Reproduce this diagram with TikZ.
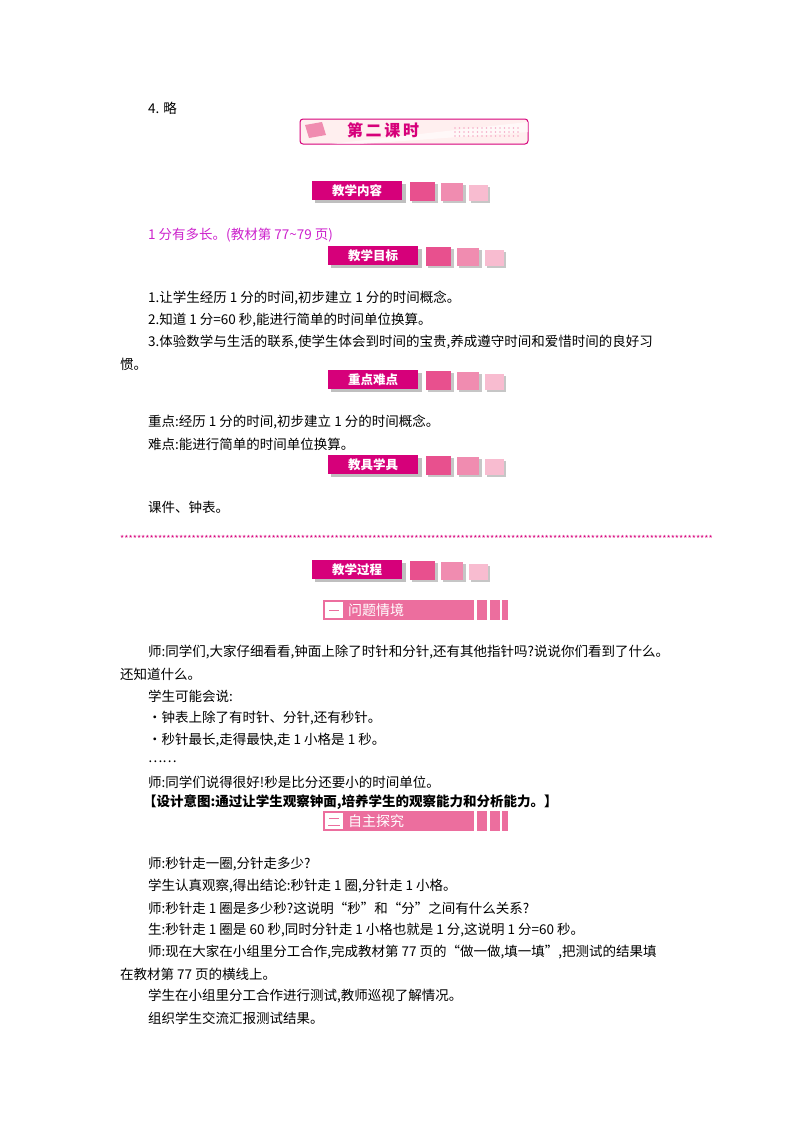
\documentclass[tikz,border=0pt]{standalone}
\usepackage{fontspec}
\setmainfont{Noto Sans CJK SC}
\definecolor{mag}{HTML}{D6007A}
\definecolor{sq1}{HTML}{E8508E}
\definecolor{sq2}{HTML}{F08CB0}
\definecolor{sq3}{HTML}{F8BCD0}
\definecolor{barc}{HTML}{EC6E9E}
\definecolor{txtm}{HTML}{CC22CC}
\begin{document}
\begin{tikzpicture}[x=1pt,y=-1pt,
 body/.style={anchor=west,inner sep=0,font=\fontsize{13.5}{15}\selectfont},
 badge/.style={fill=mag,text=white,font=\fontsize{12.5}{14}\selectfont\bfseries,inner sep=0,minimum width=90,minimum height=19},
 barlab/.style={text=white,anchor=west,inner sep=0,font=\fontsize{14}{15}\selectfont}]
\useasboundingbox (0,0) rectangle (800,1132);
\newcommand\mybadge[4]{%
 \fill[gray!50] (#1+3,#2+3) rectangle (#1+94,#2+22);
 \node[badge,anchor=north west] (#4) at (#1,#2) {#3};
 \fill[gray!45] (#1+100,#2+3) rectangle (#1+126,#2+22);
 \fill[sq1] (#1+98,#2+1) rectangle (#1+123,#2+20);
 \fill[gray!45] (#1+131,#2+4) rectangle (#1+154,#2+22);
 \fill[sq2] (#1+129,#2+2) rectangle (#1+151,#2+20);
 \fill[gray!45] (#1+159,#2+6) rectangle (#1+178,#2+22);
 \fill[sq3] (#1+157,#2+4) rectangle (#1+176,#2+20);}
\newcommand\mybar[1]{%
 \fill[barc] (323,#1) rectangle (474,#1+20);
 \fill[barc] (477,#1) rectangle (487,#1+20);
 \fill[barc] (490,#1) rectangle (500,#1+20);
 \fill[barc] (502,#1) rectangle (508,#1+20);
 \fill[white] (325,#1+2) rectangle (343,#1+18);}
\node[body] (l0) at (148,108) {4. 略};
% title bar
\draw[mag,line width=1pt,rounded corners=3,fill=pink!25] (300,119) rectangle (528,144);
\fill[sq2] (305,125) -- (322,122) -- (326,135) -- (309,138) -- cycle;
\fill[white,opacity=0.6] (330,144) -- (528,122) -- (528,132) -- (360,144) -- cycle;
\node[text=mag,font=\fontsize{16}{17}\selectfont\bfseries] (title) at (383,130) {第\,二\,课\,时};
\foreach \i in {0,...,14}{\foreach \j in {0,1,2}{\fill[sq2!70] (455+\i*4.5,128+\j*4) circle (0.8);}}
\mybadge{312}{181}{教学内容}{b1}
\node[body,text=txtm] (l1) at (148,235) {1 分有多长。(教材第 77\textasciitilde79 页)};
\mybadge{328}{246}{教学目标}{b2}
\node[body] (l2) at (148,298) {1.让学生经历 1 分的时间,初步建立 1 分的时间概念。};
\node[body] (l3) at (148,320) {2.知道 1 分=60 秒,能进行简单的时间单位换算。};
\node[body] (l4) at (148,342) {3.体验数学与生活的联系,使学生体会到时间的宝贵,养成遵守时间和爱惜时间的良好习};
\node[body] (l5) at (120,364) {惯。};
\mybadge{328}{370}{重点难点}{b3}
\node[body] (l6) at (148,422) {重点:经历 1 分的时间,初步建立 1 分的时间概念。};
\node[body] (l7) at (148,444) {难点:能进行简单的时间单位换算。};
\mybadge{328}{455}{教具学具}{b4}
\node[body] (l8) at (148,507) {课件、钟表。};
\node[anchor=west,inner sep=0,text=mag,font=\fontsize{9}{10}\selectfont] (stars) at (120,539) {\foreach \k in {1,...,141}{*}};
\mybadge{312}{560}{教学过程}{b5}
\mybar{600}
\draw[barc,thick] (329,610) -- (339,610);
\node[barlab] (s1) at (348,610) {问题情境};
\node[body] (p1) at (148,652) {师:同学们,大家仔细看看,钟面上除了时针和分针,还有其他指针吗?说说你们看到了什么。};
\node[body] (p2) at (120,674) {还知道什么。};
\node[body] (p3) at (148,696) {学生可能会说:};
\node[body] (p4) at (148,718) {·钟表上除了有时针、分针,还有秒针。};
\node[body] (p5) at (148,740) {·秒针最长,走得最快,走 1 小格是 1 秒。};
\node[body] (p6) at (148,762) {……};
\node[body] (p7) at (148,782) {师:同学们说得很好!秒是比分还要小的时间单位。};
\node[body,font=\fontsize{13.5}{15}\selectfont\bfseries] (p8) at (143,802) {【设计意图:通过让学生观察钟面,培养学生的观察能力和分析能力。】};
\mybar{811}
\draw[barc,thick] (329,818) -- (339,818);
\draw[barc,thick] (328,825) -- (340,825);
\node[barlab] (s2) at (348,821) {自主探究};
\node[body] (q1) at (148,864) {师:秒针走一圈,分针走多少?};
\node[body] (q2) at (148,886) {学生认真观察,得出结论:秒针走 1 圈,分针走 1 小格。};
\node[body] (q3) at (148,908) {师:秒针走 1 圈是多少秒?这说明“秒”和“分”之间有什么关系?};
\node[body] (q4) at (148,930) {生:秒针走 1 圈是 60 秒,同时分针走 1 小格也就是 1 分,这说明 1 分=60 秒。};
\node[body] (q5) at (148,952) {师:现在大家在小组里分工合作,完成教材第 77 页的“做一做,填一填”,把测试的结果填};
\node[body] (q6) at (120,974) {在教材第 77 页的横线上。};
\node[body] (q7) at (148,996) {学生在小组里分工合作进行测试,教师巡视了解情况。};
\node[body] (q8) at (148,1018) {组织学生交流汇报测试结果。};
\end{tikzpicture}
\end{document}
